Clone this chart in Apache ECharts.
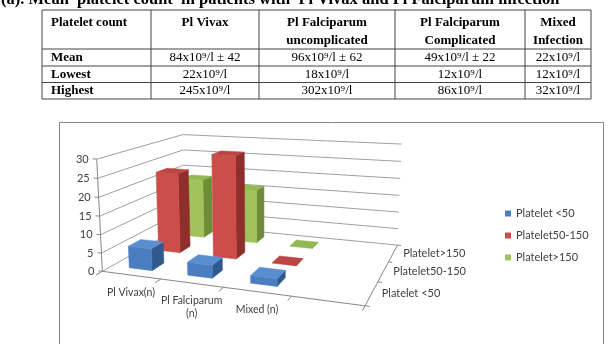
<!DOCTYPE html>
<html>
<head>
<meta charset="utf-8">
<script src="https://cdn.jsdelivr.net/npm/echarts@6/dist/echarts.min.js"></script>
<style>
html, body { margin: 0; padding: 0; background: #fff; }
#main { width: 614px; height: 344px; }
</style>
</head>
<body>
<div id="main"></div>
<script>
// chart data
var categories = ['Pl Vivax(n)', 'Pl Falciparum\n(n)', 'Mixed (n)', ''];
var seriesNames = ['Platelet <50', 'Platelet50-150', 'Platelet>150'];
var lowVals = [6, 3.5, 2, null];      // Platelet <50
var midVals = [23, 29, 0, null];      // Platelet50-150
var highVals = [18, 16, 0, null];     // Platelet>150
var valueTicks = [0, 5, 10, 15, 20, 25, 30];

// table above the chart
var caption = '(a). Mean  platelet count  in patients with  Pl Vivax and Pl Falciparum infection';
var tableHead = ['Platelet count', 'Pl Vivax', 'Pl Falciparum\nuncomplicated', 'Pl Falciparum\nComplicated', 'Mixed\nInfection'];
var rowMean = ['Mean', '84x10⁹/l ± 42', '96x10⁹/l ± 62', '49x10⁹/l ± 22', '22x10⁹/l'];
var rowLowest = ['Lowest', '22x10⁹/l', '18x10⁹/l', '12x10⁹/l', '12x10⁹/l'];
var rowHighest = ['Highest', '245x10⁹/l', '302x10⁹/l', '86x10⁹/l', '32x10⁹/l'];

var colX = [42, 151, 259, 395, 525, 591];
var rowY = [10, 49, 66, 82.5, 99];

// perspective of the 3d box: box point (category, value, depth) -> pixel
var anchors = [
  [0, 0, 0, 103.3, 272], [0, 30, 0, 96, 159.3],
  [0, 5, 0, 102, 253], [0, 10, 0, 101, 234.5], [0, 15, 0, 99.8, 216],
  [0, 20, 0, 98.6, 197], [0, 25, 0, 97.3, 178],
  [1, 0, 0, 160, 279.3], [2, 0, 0, 223, 286.7], [3, 0, 0, 293, 296.7], [4, 0, 0, 363, 306.7],
  [4, 0, 1 / 3, 378.3, 281.7], [4, 0, 2 / 3, 390, 261], [4, 0, 1, 397, 245],
  [4, 10, 1, 398.6, 211.7], [4, 20, 1, 400.2, 178.3], [4, 30, 1, 401.7, 145],
  [0, 30, 1, 183.5, 134.5], [0, 0, 1, 184, 225]
];

function fitCamera(pts) {
  var n = 11, A = [], b = [];
  pts.forEach(function (p) {
    var X = p[0] / 4, Y = p[1] / 30, Z = p[2], u = p[3], v = p[4];
    A.push([X, Y, Z, 1, 0, 0, 0, 0, -u * X, -u * Y, -u * Z]); b.push(u);
    A.push([0, 0, 0, 0, X, Y, Z, 1, -v * X, -v * Y, -v * Z]); b.push(v);
  });
  var N = [], r = [];
  for (var i = 0; i < n; i++) {
    N.push([]); r.push(0);
    for (var j = 0; j < n; j++) N[i].push(0);
    for (var k = 0; k < A.length; k++) {
      r[i] += A[k][i] * b[k];
      for (var j2 = 0; j2 < n; j2++) N[i][j2] += A[k][i] * A[k][j2];
    }
  }
  for (var c = 0; c < n; c++) {
    var piv = c;
    for (var i2 = c + 1; i2 < n; i2++) if (Math.abs(N[i2][c]) > Math.abs(N[piv][c])) piv = i2;
    var t = N[c]; N[c] = N[piv]; N[piv] = t;
    var tr = r[c]; r[c] = r[piv]; r[piv] = tr;
    for (var i3 = c + 1; i3 < n; i3++) {
      var f = N[i3][c] / N[c][c];
      for (var j3 = c; j3 < n; j3++) N[i3][j3] -= f * N[c][j3];
      r[i3] -= f * r[c];
    }
  }
  var m = new Array(n);
  for (var i4 = n - 1; i4 >= 0; i4--) {
    var s = r[i4];
    for (var j4 = i4 + 1; j4 < n; j4++) s -= N[i4][j4] * m[j4];
    m[i4] = s / N[i4][i4];
  }
  return m;
}
var cam = fitCamera(anchors);

function P(x, y, z) {
  var X = x / 4, Y = y / 30, Z = z;
  var w = cam[8] * X + cam[9] * Y + cam[10] * Z + 1;
  return [(cam[0] * X + cam[1] * Y + cam[2] * Z + cam[3]) / w,
          (cam[4] * X + cam[5] * Y + cam[6] * Z + cam[7]) / w];
}

var axisFont = 'Lato, "Open Sans", sans-serif';
var lineGray = '#868686';

function seg(list, a, b, st) {
  list.push({ type: 'line', shape: { x1: a[0], y1: a[1], x2: b[0], y2: b[1] }, style: st });
}

// walls, axes and their labels
function frameItem(params, api) {
  var kids = [];
  var nCat = categories.length;
  var gridSt = { stroke: lineGray, lineWidth: 0.8 };
  valueTicks.forEach(function (v) {
    seg(kids, P(0, v, 0), P(0, v, 1), gridSt);
    seg(kids, P(0, v, 1), P(nCat, v, 1), gridSt);
  });
  var axSt = { stroke: lineGray, lineWidth: 1 };
  seg(kids, P(0, 0, 0), P(0, 30, 0), axSt);
  seg(kids, P(0, 0, 0), P(nCat, 0, 0), axSt);
  seg(kids, P(nCat, 0, 0), P(nCat, 0, 1), axSt);
  valueTicks.forEach(function (v) {
    var p = P(0, v, 0);
    seg(kids, p, P(-0.07, v, 0), axSt);
    kids.push({ type: 'text', x: p[0] - 8, y: p[1],
      style: { text: String(v), align: 'right', verticalAlign: 'middle',
               font: '11px ' + axisFont, fill: '#404040' } });
  });
  for (var i = 0; i <= nCat; i++) seg(kids, P(i, 0, 0), P(i, 0, -0.06), axSt);
  categories.forEach(function (c, i) {
    var p = P(i + 0.5, 0, 0);
    kids.push({ type: 'text', x: p[0], y: p[1] + 11,
      style: { text: c, align: 'center', verticalAlign: 'top', lineHeight: 13,
               font: '10.5px ' + axisFont, fill: '#404040' } });
  });
  for (var j = 0; j <= seriesNames.length; j++) {
    var z = j / seriesNames.length;
    seg(kids, P(nCat, 0, z), P(nCat + 0.06, 0, z), axSt);
  }
  seriesNames.forEach(function (s, j) {
    var p = P(nCat, 0, (j + 0.5) / seriesNames.length);
    kids.push({ type: 'text', x: p[0] + 10, y: p[1],
      style: { text: s, align: 'left', verticalAlign: 'middle',
               font: '11px ' + axisFont, fill: '#404040' } });
  });
  return { type: 'group', children: kids };
}

function barSeries(name, vals, depth, shade, z) {
  return {
    type: 'custom', name: name, coordinateSystem: 'none', z: z, clip: false,
    itemStyle: { color: shade.front },
    data: vals.map(function (v, i) { return [i, v == null ? '-' : v]; }),
    renderItem: function (params, api) {
      var ci = api.value(0), v = api.value(1);
      if (v == null || isNaN(v)) return;
      var nS = seriesNames.length;
      var x0 = ci + 0.3, x1 = ci + 0.7, z0 = (depth + 0.3) / nS, z1 = (depth + 0.7) / nS;
      var kids = [];
      function face(pts, col) {
        kids.push({ type: 'polygon', shape: { points: pts },
          style: { fill: col, stroke: col, lineWidth: 0.5 } });
      }
      if (v > 0) {
        face([P(x1, 0, z0), P(x1, 0, z1), P(x1, v, z1), P(x1, v, z0)], shade.side);
        face([P(x0, 0, z0), P(x1, 0, z0), P(x1, v, z0), P(x0, v, z0)], shade.front);
      }
      face([P(x0, v, z0), P(x1, v, z0), P(x1, v, z1), P(x0, v, z1)], shade.top);
      return { type: 'group', children: kids };
    }
  };
}

// table drawn as graphic elements
function tableGraphic() {
  var els = [];
  var bst = { stroke: '#444', lineWidth: 1 };
  rowY.forEach(function (y) {
    els.push({ type: 'line', shape: { x1: colX[0], y1: y, x2: colX[colX.length - 1], y2: y }, style: bst });
  });
  colX.forEach(function (x) {
    els.push({ type: 'line', shape: { x1: x, y1: rowY[0], x2: x, y2: rowY[rowY.length - 1] }, style: bst });
  });
  var serif = '"Liberation Serif", "Times New Roman", serif';
  tableHead.forEach(function (h, i) {
    els.push({ type: 'text', x: i === 0 ? colX[0] + 9 : (colX[i] + colX[i + 1]) / 2, y: rowY[0] + 4,
      style: { text: h, align: i === 0 ? 'left' : 'center', verticalAlign: 'top', lineHeight: 17.5,
               font: 'bold 13px ' + serif, fill: '#000' } });
  });
  [rowMean, rowLowest, rowHighest].forEach(function (row, r) {
    var yc = (rowY[r + 1] + rowY[r + 2]) / 2;
    row.forEach(function (cell, i) {
      els.push({ type: 'text', x: i === 0 ? colX[0] + 9 : (colX[i] + colX[i + 1]) / 2, y: yc,
        style: { text: cell, align: i === 0 ? 'left' : 'center', verticalAlign: 'middle',
                 font: (i === 0 ? 'bold ' : '') + '13px ' + serif, fill: '#000' } });
    });
  });
  els.push({ type: 'text', x: 1, y: 8,
    style: { text: caption, align: 'left', verticalAlign: 'bottom',
             font: 'bold 16.5px ' + serif, fill: '#000' } });
  els.push({ type: 'rect', shape: { x: 59.5, y: 122.5, width: 544, height: 260 },
    style: { fill: 'none', stroke: lineGray, lineWidth: 1 } });
  return els;
}

var chart = echarts.init(document.getElementById('main'));
chart.setOption({
  animation: false,
  backgroundColor: '#fff',
  graphic: tableGraphic(),
  legend: {
    data: seriesNames, orient: 'vertical', left: 500, top: 203,
    itemWidth: 6, itemHeight: 6, itemGap: 11, icon: 'rect',
    textStyle: { fontFamily: axisFont, fontSize: 11, color: '#404040' }
  },
  series: [
    { type: 'custom', name: 'frame', coordinateSystem: 'none', z: 1, silent: true,
      data: [[0]], renderItem: frameItem },
    barSeries(seriesNames[2], highVals, 2, { front: '#A2C35B', side: '#6E8B37', top: '#94B852' }, 2),
    barSeries(seriesNames[1], midVals, 1, { front: '#CC4E4B', side: '#8E2F2C', top: '#BB4542' }, 3),
    barSeries(seriesNames[0], lowVals, 0, { front: '#4A7EC0', side: '#30598C', top: '#5A8ED0' }, 4)
  ]
});
</script>
</body>
</html>
